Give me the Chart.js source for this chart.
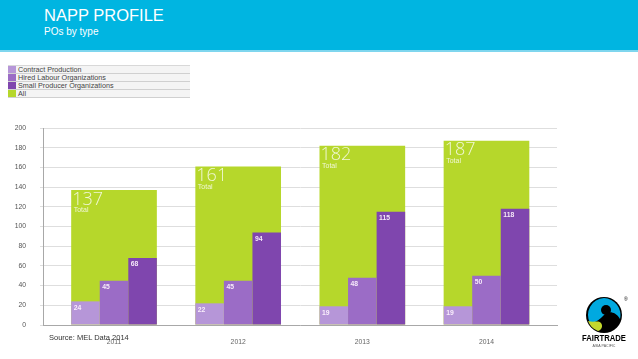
<!DOCTYPE html>
<html>
<head>
<meta charset="utf-8">
<script src="https://cdn.jsdelivr.net/npm/chart.js@4"></script>
<style>
  html, body { margin: 0; padding: 0; background: #fff; }
  #wrap { position: relative; width: 638px; height: 359px; overflow: hidden; font-family: "Liberation Sans", Arial, sans-serif; }
  #header { position: absolute; left: 0; top: 0; width: 638px; height: 50px; background: #00b5e1; border-bottom: 2px solid #7fd6ee; }
  #title { position: absolute; left: 44px; top: 6px; color: #fff; font-size: 16.5px; }
  #subtitle { position: absolute; left: 44px; top: 26px; color: #fff; font-size: 10px; }
  #legend { position: absolute; left: 8px; top: 65px; width: 182px; background: #f4f4f4; border-top: 1px solid #d8d8d8; }
  .lrow { height: 7px; border-bottom: 1px solid #d0d0d0; position: relative; font-size: 7.2px; line-height: 7px; color: #444; }
  .lsw { position: absolute; left: 0; top: 0; width: 8px; height: 7px; }
  .ltx { position: absolute; left: 10px; top: 0; white-space: nowrap; }
  #chart { position: absolute; left: 0; top: 0; }
  #source { position: absolute; left: 49px; top: 333px; font-size: 7.5px; color: #333; }
  #logo { position: absolute; left: 582px; top: 293px; width: 50px; height: 60px; }
</style>
</head>
<body>
<div id="wrap">
  <div id="header">
    <div id="title">NAPP PROFILE</div>
    <div id="subtitle">POs by type</div>
  </div>
  <canvas id="chart" width="638" height="359"></canvas>
  <div id="legend"></div>
  <div id="source">Source: MEL Data 2014</div>
  <svg id="logo" viewBox="0 0 50 60">
    <circle cx="22" cy="22" r="18" fill="#000"/>
    <path d="M22 5 A17 17 0 0 1 38 26 C33 18 26 18 22 22 C18 26 14 30 8 30 A17 17 0 0 1 22 5 Z" fill="#00a9e0"/>
    <path d="M6 28 C12 30 16 27 19 30 C22 34 18 38 16 38 A17 17 0 0 1 6 28 Z" fill="#c3d82d"/>
    <circle cx="24" cy="17" r="5" fill="#000"/>
    <text x="42" y="8" font-size="5" fill="#000" font-family="Liberation Sans">®</text>
    <text x="22" y="48" font-size="9.2" font-weight="bold" text-anchor="middle" fill="#000" font-family="Liberation Sans" textLength="44" lengthAdjust="spacingAndGlyphs">FAIRTRADE</text>
    <text x="22" y="54" font-size="3.6" text-anchor="middle" fill="#555" font-family="Liberation Sans">ASIA PACIFIC</text>
  </svg>
</div>
<script>
// ---- data ----
const years = [2011, 2012, 2013, 2014];
const yearLabels = ['2011', '2012', '2013', '2014'];
const contractProduction = [24, 22, 19, 19];
const hiredLabour = [45, 45, 48, 50];
const smallProducer = [68, 94, 115, 118];
const allPOs = [137, 161, 182, 187];
const yTicks = [0, 20, 40, 60, 80, 100, 120, 140, 160, 180, 200];
const seriesNames = ['Contract Production', 'Hired Labour Organizations', 'Small Producer Organizations', 'All'];
const seriesColors = ['#b696d8', '#9b6cc6', '#7f46ae', '#b6d72b'];

const toPts = arr => arr.map((v, i) => ({ x: years[i], y: v }));

// ---- legend (HTML) ----
const legendEl = document.getElementById('legend');
seriesNames.forEach((n, i) => {
  const r = document.createElement('div');
  r.className = 'lrow';
  r.innerHTML = '<span class="lsw" style="background:' + seriesColors[i] + '"></span><span class="ltx">' + n + '</span>';
  legendEl.appendChild(r);
});

const CP = 0.69;
const barBase = { categoryPercentage: CP, barPercentage: 1, borderWidth: 0 };

const labelPlugin = {
  id: 'barLabels',
  afterDatasetsDraw(chart) {
    const ctx = chart.ctx;
    ctx.save();
    ctx.textAlign = 'left';
    ctx.textBaseline = 'top';
    chart.data.datasets.forEach((ds, di) => {
      const meta = chart.getDatasetMeta(di);
      meta.data.forEach((bar, i) => {
        const left = bar.x - bar.width / 2;
        const val = ds.data[i].y;
        if (ds.isTotal) {
          ctx.fillStyle = 'rgba(255,255,255,0.8)';
          ctx.font = '300 18px "Open Sans", "Liberation Sans", Arial, sans-serif';
          ctx.fillText(String(val), left + 1, bar.y + 0.5);
          ctx.font = '7px "Liberation Sans", Arial, sans-serif';
          ctx.fillText('Total', left + 2.5, bar.y + 17);
        } else {
          ctx.fillStyle = 'rgba(255,245,255,0.92)';
          ctx.font = 'bold 6.8px "Liberation Sans", Arial, sans-serif';
          ctx.fillText(String(val), left + 2.5, bar.y + 3);
        }
      });
    });
    ctx.restore();
  }
};

new Chart(document.getElementById('chart'), {
  type: 'bar',
  data: {
    datasets: [
      Object.assign({ label: seriesNames[0], data: toPts(contractProduction), backgroundColor: seriesColors[0], order: 0 }, barBase),
      Object.assign({ label: seriesNames[1], data: toPts(hiredLabour), backgroundColor: seriesColors[1], order: 0 }, barBase),
      Object.assign({ label: seriesNames[2], data: toPts(smallProducer), backgroundColor: seriesColors[2], order: 0 }, barBase),
      Object.assign({ label: seriesNames[3], data: toPts(allPOs), backgroundColor: seriesColors[3], order: 1, grouped: false, isTotal: true }, barBase)
    ]
  },
  options: {
    responsive: false,
    animation: false,
    layout: { padding: { left: 0, right: 81, top: 128, bottom: 0 } },
    plugins: { legend: { display: false }, tooltip: { enabled: false } },
    scales: {
      x: {
        type: 'linear',
        offset: false,
        min: 2010.428,
        max: 2014.568,
        afterBuildTicks: axis => { axis.ticks = years.map(v => ({ value: v })); },
        afterFit: axis => { axis.height = 34; },
        grid: { display: false, drawTicks: false, offset: false },
        border: { display: true, color: '#a8a8a8', width: 1 },
        ticks: {
          padding: 13,
          color: '#666',
          font: { size: 6.8, family: '"Liberation Sans", Arial, sans-serif' },
          callback: (v, i) => yearLabels[i]
        }
      },
      y: {
        min: 0,
        max: 200,
        afterBuildTicks: axis => { axis.ticks = yTicks.map(v => ({ value: v })); },
        afterFit: axis => { axis.width = 43; },
        grid: { color: '#dedede', lineWidth: 1, tickLength: 3, drawTicks: true },
        border: { display: true, color: '#a8a8a8', width: 1 },
        ticks: {
          padding: 14,
          color: '#555',
          font: { size: 6.8, family: '"Liberation Sans", Arial, sans-serif' }
        }
      }
    }
  },
  plugins: [labelPlugin]
});
</script>
</body>
</html>
